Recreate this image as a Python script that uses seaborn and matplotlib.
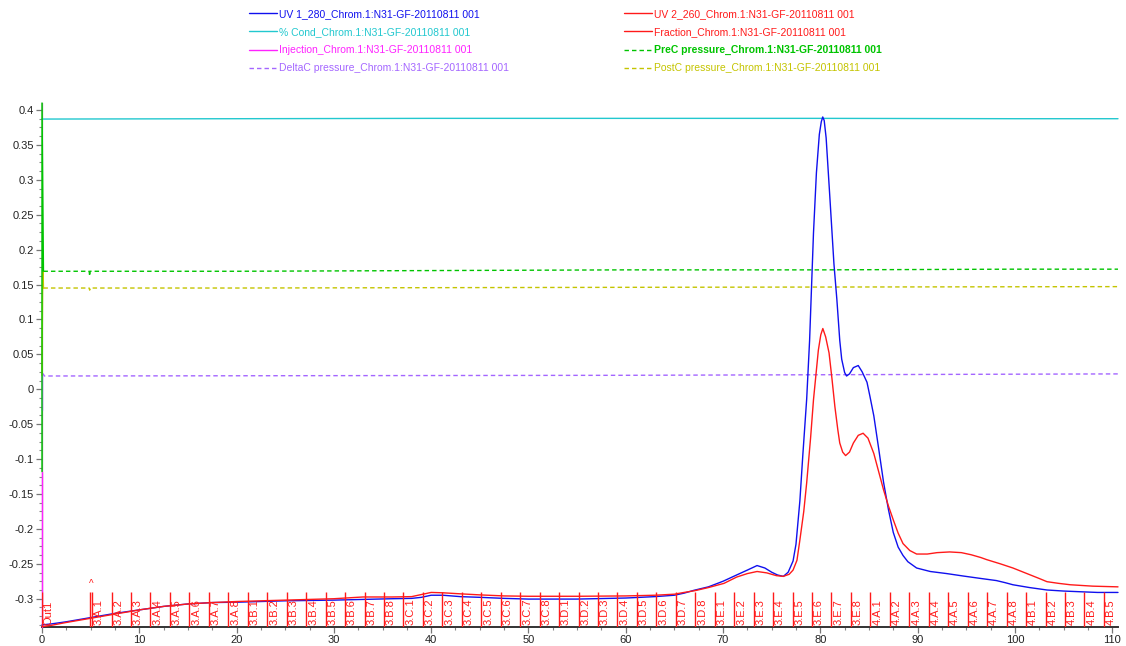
import numpy as np
import pandas as pd
import matplotlib
matplotlib.use("Agg")
import matplotlib.pyplot as plt
import seaborn as sns
from matplotlib.ticker import MultipleLocator, FuncFormatter
from matplotlib.lines import Line2D

sns.set_theme(style="white")
plt.rcParams['font.family'] = ['Liberation Sans', 'DejaVu Sans']

RUN = "Chrom.1:N31-GF-20110811 001"

# UV 280 nm trace (min, AU)
uv1_t = [0.0, 1.0, 2.5, 5.0, 7.5, 10.0, 12.5, 15.0, 17.5, 20.0, 22.5, 25.0, 27.5, 30.0,
         33.0, 36.0, 38.0, 39.0, 40.0, 41.2, 43.0, 45.0, 47.5, 50.0, 55.0, 60.0, 63.0,
         65.0, 66.0, 67.0, 68.5, 70.0, 71.4, 72.5, 73.5, 74.3, 75.0, 75.6, 76.2, 76.7,
         77.2, 77.5, 77.9, 78.2, 78.6, 78.9, 79.3, 79.6, 79.9, 80.1, 80.25, 80.4, 80.6,
         81.0, 81.4, 81.7, 82.0, 82.2, 82.5, 82.7, 83.0, 83.4, 83.9, 84.3, 84.8, 85.1,
         85.5, 86.0, 86.5, 87.0, 87.5, 88.0, 88.5, 89.0, 89.9, 91.3, 93.0, 94.7, 96.5,
         98.1, 99.0, 99.8, 101.5, 103.3, 105.0, 106.7, 108.5, 110.6]
uv1_v = [-0.3375, -0.336, -0.333, -0.327, -0.321, -0.316, -0.311, -0.3075, -0.3055, -0.305,
         -0.304, -0.303, -0.3025, -0.302, -0.301, -0.300, -0.2995, -0.298, -0.295, -0.295,
         -0.297, -0.298, -0.2995, -0.3005, -0.3005, -0.299, -0.297, -0.295, -0.292, -0.288,
         -0.283, -0.275, -0.266, -0.259, -0.2525, -0.256, -0.262, -0.266, -0.268, -0.262,
         -0.246, -0.222, -0.160, -0.095, -0.014, 0.070, 0.224, 0.310, 0.365, 0.383, 0.390,
         0.385, 0.360, 0.271, 0.180, 0.129, 0.070, 0.043, 0.024, 0.019, 0.022, 0.031, 0.034,
         0.025, 0.010, -0.010, -0.038, -0.085, -0.133, -0.172, -0.205, -0.226, -0.238,
         -0.247, -0.256, -0.261, -0.264, -0.2675, -0.271, -0.274, -0.277, -0.280, -0.284,
         -0.2875, -0.289, -0.290, -0.291, -0.291]

# UV 260 nm trace (min, AU)
uv2_t = [0.0, 1.0, 2.5, 5.0, 7.5, 10.0, 12.5, 15.0, 17.5, 20.0, 25.0, 30.0, 33.0, 36.0,
         38.0, 39.0, 40.0, 41.2, 43.0, 45.0, 47.5, 50.0, 55.0, 60.0, 63.0, 65.0, 66.0,
         67.1, 68.5, 70.1, 71.4, 72.5, 73.5, 74.5, 75.5, 76.2, 76.8, 77.2, 77.6, 77.9,
         78.3, 78.6, 79.0, 79.3, 79.8, 80.05, 80.26, 80.55, 80.9, 81.2, 81.5, 81.8, 82.0,
         82.3, 82.6, 83.0, 83.4, 83.9, 84.4, 84.9, 85.5, 86.0, 86.5, 87.0, 87.5, 88.0,
         88.5, 89.2, 89.9, 91.0, 92.0, 93.3, 94.5, 95.5, 96.5, 97.1, 98.5, 99.8, 100.7,
         101.6, 102.5, 103.3, 104.5, 105.7, 108.0, 110.6]
uv2_v = [-0.340, -0.338, -0.334, -0.328, -0.322, -0.316, -0.311, -0.3075, -0.3055, -0.304,
         -0.302, -0.300, -0.2975, -0.2975, -0.297, -0.294, -0.291, -0.2915, -0.293, -0.2945,
         -0.296, -0.2965, -0.2965, -0.296, -0.295, -0.2935, -0.291, -0.2885, -0.284, -0.278,
         -0.269, -0.264, -0.261, -0.263, -0.267, -0.268, -0.265, -0.259, -0.245, -0.216,
         -0.175, -0.134, -0.070, -0.015, 0.056, 0.078, 0.087, 0.075, 0.052, 0.015, -0.025,
         -0.058, -0.077, -0.090, -0.095, -0.090, -0.077, -0.066, -0.063, -0.070, -0.092,
         -0.118, -0.144, -0.167, -0.187, -0.206, -0.221, -0.231, -0.236, -0.236, -0.234,
         -0.233, -0.234, -0.237, -0.241, -0.244, -0.250, -0.256, -0.261, -0.266, -0.271,
         -0.2756, -0.278, -0.280, -0.282, -0.283]

# Conductivity
cond_t = [0.0, 20.0, 40.0, 60.0, 80.0, 100.0, 110.6]
cond_v = [0.387, 0.3875, 0.388, 0.388, 0.388, 0.3875, 0.3875]

# Injection
inj_t = [0.0, 0.0]
inj_v = [-0.340, -0.118]

# Column pressures
prec_t = [0.0, 0.0, 0.15, 4.85, 4.9, 4.95, 20.0, 40.0, 60.0, 80.0, 100.0, 110.6]
prec_v = [-0.118, 0.41, 0.169, 0.169, 0.162, 0.169, 0.169, 0.170, 0.171, 0.171,
          0.172, 0.172]
postc_t = [0.0, 0.08, 0.15, 4.85, 4.9, 4.95, 20.0, 60.0, 110.6]
postc_v = [0.020, 0.190, 0.145, 0.145, 0.142, 0.145, 0.145, 0.146, 0.147]
deltac_t = [0.0, 0.0, 0.12, 0.25, 60.0, 110.6]
deltac_v = [-0.030, 0.022, 0.022, 0.019, 0.020, 0.022]

# Fractions
frac_labels = ["Out1",
               "3.A.1", "3.A.2", "3.A.3", "3.A.4", "3.A.5", "3.A.6", "3.A.7", "3.A.8",
               "3.B.1", "3.B.2", "3.B.3", "3.B.4", "3.B.5", "3.B.6", "3.B.7", "3.B.8",
               "3.C.1", "3.C.2", "3.C.3", "3.C.4", "3.C.5", "3.C.6", "3.C.7", "3.C.8",
               "3.D.1", "3.D.2", "3.D.3", "3.D.4", "3.D.5", "3.D.6", "3.D.7", "3.D.8",
               "3.E.1", "3.E.2", "3.E.3", "3.E.4", "3.E.5", "3.E.6", "3.E.7", "3.E.8",
               "4.A.1", "4.A.2", "4.A.3", "4.A.4", "4.A.5", "4.A.6", "4.A.7", "4.A.8",
               "4.B.1", "4.B.2", "4.B.3", "4.B.4", "4.B.5"]
frac_t = [0.0,
          5.15, 7.15, 9.15, 11.15, 13.15, 15.15, 17.15, 19.15,
          21.15, 23.15, 25.15, 27.15, 29.15, 31.15, 33.15, 35.15,
          37.15, 39.15, 41.15, 43.15, 45.15, 47.15, 49.15, 51.15,
          53.15, 55.15, 57.15, 59.15, 61.15, 63.15, 65.15, 67.15,
          69.15, 71.15, 73.15, 75.15, 77.15, 79.15, 81.15, 83.15,
          85.15, 87.15, 89.15, 91.15, 93.15, 95.15, 97.15, 99.15,
          101.15, 103.15, 105.15, 107.15, 109.15]
inject_mark_t = 4.93

C_UV1 = "#1010ee"
C_UV2 = "#ff1a1a"
C_COND = "#22c8cf"
C_INJ = "#ff22ff"
C_FRAC = "#ff1a1a"
C_PREC = "#00c400"
C_DELTA = "#a466ff"
C_POSTC = "#c4c400"
DASH = (0, (3.2, 2.2))

fig = plt.figure(figsize=(11.26, 6.46), dpi=100)
ax = fig.add_axes([42 / 1126, 19 / 646, (1118 - 42) / 1126, (627 - 103) / 646])

def trace(t, v, color, ls="-", lw=1.0, z=3):
    df = pd.DataFrame({"t": t, "v": v})
    sns.lineplot(data=df, x="t", y="v", ax=ax, color=color, linewidth=lw,
                 linestyle=ls, estimator=None, sort=False, zorder=z, clip_on=False)

trace(cond_t, cond_v, C_COND)
trace(deltac_t[:2], deltac_v[:2], C_DELTA, z=4)
trace(deltac_t[1:], deltac_v[1:], C_DELTA, ls=DASH)
trace(postc_t[:3], postc_v[:3], C_POSTC, z=4)
trace(postc_t[2:], postc_v[2:], C_POSTC, ls=DASH)
trace(prec_t[:3], prec_v[:3], C_PREC, z=5)
trace(prec_t[2:], prec_v[2:], C_PREC, ls=DASH)
trace(inj_t, inj_v, C_INJ, z=6)
trace(uv1_t, uv1_v, C_UV1, z=7)
trace(uv2_t, uv2_v, C_UV2, z=8)

# fraction marks along the bottom
xt = ax.get_xaxis_transform()
ax.vlines(frac_t + [inject_mark_t], 0, 0.067, transform=xt, color=C_FRAC, lw=1.0, zorder=9)
for t, lab in zip(frac_t, frac_labels):
    ax.text(t + 0.2, 0.004, lab, transform=xt, rotation=90, ha="left", va="bottom",
            color=C_FRAC, fontsize=8, zorder=9)
ax.text(inject_mark_t + 0.1, 0.072, "^", transform=xt, ha="center", va="bottom",
        color=C_FRAC, fontsize=7)

ax.set_xlim(0, 110.6)
ax.set_ylim(-0.3405, 0.41)
ax.set_xlabel("")
ax.set_ylabel("")

ax.xaxis.set_major_locator(MultipleLocator(10))
ax.xaxis.set_minor_locator(MultipleLocator(2.5))
ax.yaxis.set_major_locator(MultipleLocator(0.05))
ax.yaxis.set_minor_locator(MultipleLocator(0.0125))

def fmt(v, pos):
    v = round(v, 4)
    if v == 0:
        return "0"
    return f"{v:g}"

ax.yaxis.set_major_formatter(FuncFormatter(fmt))
ax.xaxis.set_major_formatter(FuncFormatter(fmt))
ax.tick_params(axis="both", which="major", direction="out", length=4, width=0.9,
               color="#777777", labelsize=8, labelcolor="#222222", pad=2,
               bottom=True, left=True)
ax.tick_params(axis="both", which="minor", direction="out", length=2.5, width=0.8,
               color="#888888", bottom=True, left=True)

for s in ["top", "right"]:
    ax.spines[s].set_visible(False)
ax.spines["left"].set_color("#888888")
ax.spines["left"].set_linewidth(0.9)
ax.spines["bottom"].set_color("#333333")
ax.spines["bottom"].set_linewidth(1.4)
ax.grid(False)

# legends, two columns
left_entries = [("UV 1_280_" + RUN, C_UV1, "-", "normal"),
                ("% Cond_" + RUN, C_COND, "-", "normal"),
                ("Injection_" + RUN, C_INJ, "-", "normal"),
                ("DeltaC pressure_" + RUN, C_DELTA, DASH, "normal")]
right_entries = [("UV 2_260_" + RUN, C_UV2, "-", "normal"),
                 ("Fraction_" + RUN, C_FRAC, "-", "normal"),
                 ("PreC pressure_" + RUN, C_PREC, DASH, "bold"),
                 ("PostC pressure_" + RUN, C_POSTC, DASH, "normal")]

for entries, x0 in [(left_entries, 249 / 1126), (right_entries, 624 / 1126)]:
    handles = [Line2D([], [], color=c, lw=1.0, ls=ls) for _, c, ls, _ in entries]
    leg = fig.legend(handles, [e[0] for e in entries], loc="upper left",
                     bbox_to_anchor=(x0, 1 - 9 / 646), frameon=False, fontsize=7.5,
                     handlelength=2.7, handletextpad=0.2, labelspacing=0.78,
                     borderpad=0, borderaxespad=0)
    for txt, (_, c, _, w) in zip(leg.get_texts(), entries):
        txt.set_color(c)
        txt.set_fontweight(w)

fig.savefig("out.png", dpi=100)
